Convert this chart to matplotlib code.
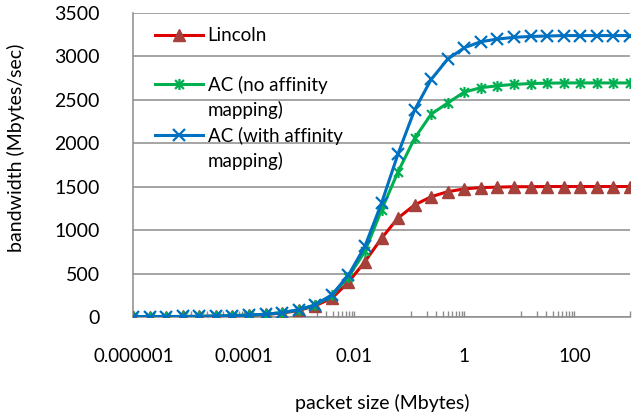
import matplotlib
matplotlib.use("Agg")
import matplotlib.pyplot as plt
from matplotlib.path import Path
from matplotlib.lines import Line2D
from matplotlib.ticker import FixedLocator, FixedFormatter, NullFormatter

plt.rcParams['font.family'] = ['Lato', 'DejaVu Sans']

# packet sizes in bytes (1 B .. 1 GB), shown in Mbytes
packet_size_bytes = [1, 2, 4, 8, 16, 32, 64, 128, 256, 512, 1024, 2048, 4096,
                     8192, 16384, 32768, 65536, 131072, 262144, 524288, 1048576,
                     2097152, 4194304, 8388608, 16777216, 33554432, 67108864,
                     134217728, 268435456, 536870912, 1073741824]
lincoln = [5, 5, 5, 6, 7, 10, 14, 20, 30, 45, 75, 130, 215, 400, 637, 906, 1140,
           1290, 1385, 1443, 1475, 1490, 1495, 1500, 1500, 1502, 1502, 1502, 1502,
           1502, 1502]
ac_no_affinity = [5, 5, 5, 6, 7, 10, 15, 22, 32, 50, 82, 135, 250, 460, 755, 1232,
                  1673, 2058, 2335, 2465, 2590, 2640, 2662, 2678, 2688, 2692, 2695,
                  2695, 2695, 2695, 2695]
ac_affinity = [5, 5, 5, 6, 7, 10, 15, 22, 32, 50, 85, 140, 255, 480, 815, 1310,
               1880, 2385, 2735, 2970, 3100, 3170, 3200, 3220, 3230, 3235, 3240,
               3240, 3240, 3240, 3240]
x_major = [1e-6, 1e-4, 1e-2, 1, 100]
x_major_labels = ["0.000001", "0.0001", "0.01", "1", "100"]
y_ticks = [0, 500, 1000, 1500, 2000, 2500, 3000, 3500]

x_mb = [b / 1048576 for b in packet_size_bytes]

fig = plt.figure(figsize=(6.44, 4.17), dpi=100)
ax = fig.add_axes([133/644, 1-317/417, 497/644, 304/417])

star = Path([(-1, -1), (1, 1), (-1, 1), (1, -1), (0, -1.25), (0, 1.25)],
            [Path.MOVETO, Path.LINETO, Path.MOVETO, Path.LINETO, Path.MOVETO, Path.LINETO])

l1, = ax.plot(x_mb, lincoln, color='#DD0000', lw=2.2, marker='^', ms=9,
              mfc='#A5403B', mec='#A5403B', zorder=3)
l2, = ax.plot(x_mb, ac_no_affinity, color='#00B050', lw=2.2, marker=star, ms=8,
              mfc='none', mec='#00B050', mew=1.6, zorder=4)
l3, = ax.plot(x_mb, ac_affinity, color='#0070C0', lw=2.2, marker='x', ms=8,
              mec='#0070C0', mew=1.6, zorder=5)

ax.set_xscale('log')
ax.set_xlim(x_mb[0], x_mb[-1])
ax.set_ylim(0, 3500)

grey = '#8C8C8C'
ax.set_yticks(y_ticks)
ax.yaxis.grid(True, color=grey, lw=1.1)
ax.set_axisbelow(True)
for s in ['top', 'right']:
    ax.spines[s].set_visible(False)
ax.spines['left'].set_color(grey)
ax.spines['bottom'].set_color(grey)
ax.spines['left'].set_linewidth(1.1)
ax.spines['bottom'].set_linewidth(1.1)

ax.xaxis.set_major_locator(FixedLocator(x_major))
ax.xaxis.set_major_formatter(FixedFormatter(x_major_labels))
minor = []
for m in x_major:
    for k in range(1, 10):
        v = m + k * (99 * m) / 10
        if v <= x_mb[-1]:
            minor.append(v)
minor.append(x_mb[-1])
ax.xaxis.set_minor_locator(FixedLocator(minor))
ax.xaxis.set_minor_formatter(NullFormatter())
ax.tick_params(axis='x', which='both', direction='in', length=4, width=1, color=grey,
               labelsize=13.5, pad=22, labelcolor='#000000')
ax.tick_params(axis='y', length=0, labelsize=14, pad=24)

ax.set_ylabel('bandwidth (Mbytes/sec)', fontsize=14)
ax.yaxis.set_label_coords(-0.217, 0.556)
ax.set_xlabel('packet size (Mbytes)', fontsize=14)
ax.xaxis.set_label_coords(0.501, -0.252)

blank = Line2D([], [], linestyle='none')
handles = [l1, blank, l2, blank, l3, blank]
labels = ['Lincoln', ' ', 'AC (no affinity', 'mapping)', 'AC (with affinity', 'mapping)']
leg = ax.legend(handles, labels, loc='upper left', bbox_to_anchor=(0.044, 0.953),
                frameon=False, fontsize=13.5, handlelength=2.56, handletextpad=0.25,
                labelspacing=0.39, borderpad=0, borderaxespad=0)

fig.savefig('out.png', dpi=100)
